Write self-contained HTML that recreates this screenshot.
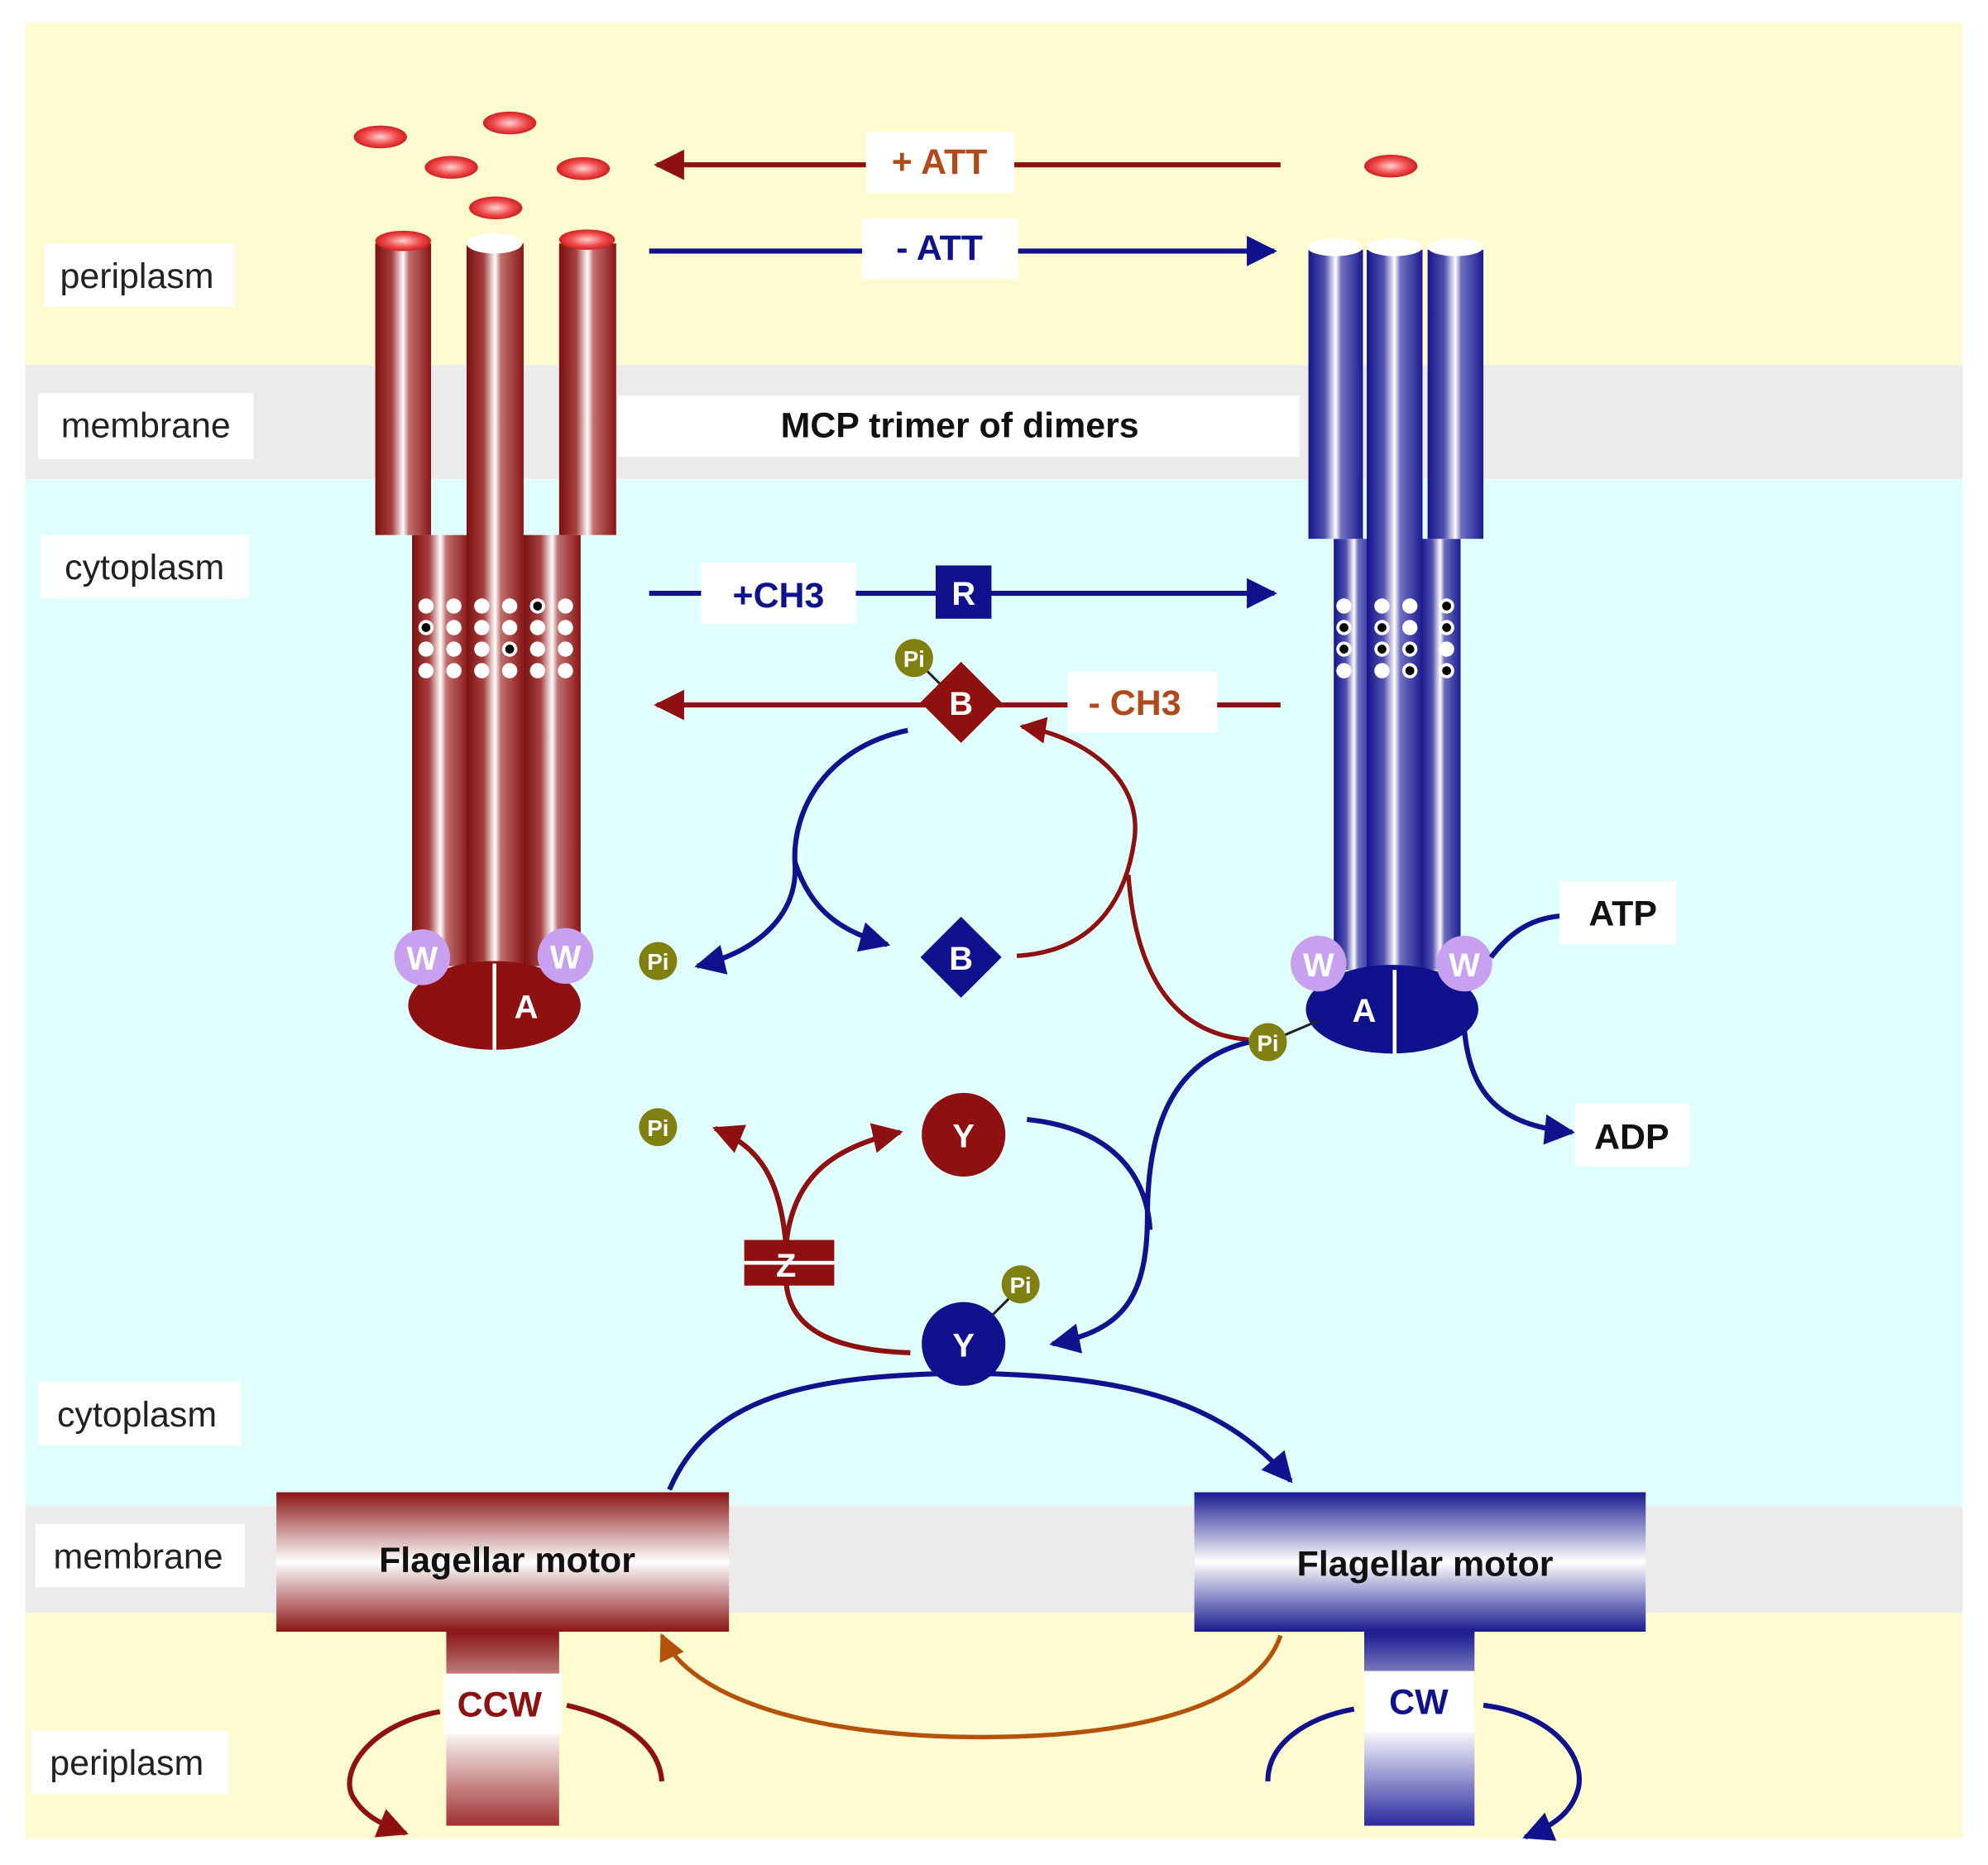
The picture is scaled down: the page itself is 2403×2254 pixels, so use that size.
<!DOCTYPE html>
<html><head><meta charset="utf-8">
<style>html,body{margin:0;padding:0;background:#fff}svg{display:block}
text{font-family:"Liberation Sans",Arial,sans-serif}</style></head>
<body>
<svg width="2403" height="2254" viewBox="0 0 1568 1471" preserveAspectRatio="none" xmlns="http://www.w3.org/2000/svg">
<defs>
<linearGradient id="rc" x1="0" x2="1" y1="0" y2="0">
<stop offset="0" stop-color="#7a1010"/><stop offset="0.3" stop-color="#a84040"/><stop offset="0.5" stop-color="#fff"/><stop offset="0.6" stop-color="#c07070"/><stop offset="1" stop-color="#8a1515"/></linearGradient>
<linearGradient id="bc" x1="0" x2="1" y1="0" y2="0">
<stop offset="0" stop-color="#14148a"/><stop offset="0.3" stop-color="#5050b0"/><stop offset="0.5" stop-color="#fff"/><stop offset="0.6" stop-color="#7070c0"/><stop offset="1" stop-color="#1a1a90"/></linearGradient>
<linearGradient id="rm" x1="0" x2="0" y1="0" y2="1">
<stop offset="0" stop-color="#8a1515"/><stop offset="0.5" stop-color="#fff"/><stop offset="1" stop-color="#8a1515"/></linearGradient>
<linearGradient id="bm" x1="0" x2="0" y1="0" y2="1">
<stop offset="0" stop-color="#1a1a90"/><stop offset="0.5" stop-color="#fff"/><stop offset="1" stop-color="#1a1a90"/></linearGradient>
<linearGradient id="rs" x1="0" x2="0" y1="0" y2="1">
<stop offset="0" stop-color="#8a1515"/><stop offset="0.5" stop-color="#fff"/><stop offset="1" stop-color="#a03030"/></linearGradient>
<linearGradient id="bs" x1="0" x2="0" y1="0" y2="1">
<stop offset="0" stop-color="#1a1a90"/><stop offset="0.5" stop-color="#fff"/><stop offset="1" stop-color="#2a2aa0"/></linearGradient>
<radialGradient id="att"><stop offset="0" stop-color="#ffd0d0"/><stop offset="0.6" stop-color="#f05050"/><stop offset="1" stop-color="#d02020"/></radialGradient>
<marker id="ab" viewBox="0 0 10 10" refX="9" refY="5" markerWidth="7" markerHeight="6" orient="auto" markerUnits="strokeWidth"><path d="M0,0L10,5L0,10z" fill="#0f128c"/></marker>
<marker id="ar" viewBox="0 0 10 10" refX="9" refY="5" markerWidth="7" markerHeight="6" orient="auto" markerUnits="strokeWidth"><path d="M0,0L10,5L0,10z" fill="#8e1010"/></marker>
<marker id="ao" viewBox="0 0 10 10" refX="9" refY="5" markerWidth="7" markerHeight="6" orient="auto" markerUnits="strokeWidth"><path d="M0,0L10,5L0,10z" fill="#b5520a"/></marker>
</defs>
<rect width="1568" height="1471" fill="#fff"/>
<rect x="20" y="18" width="1528" height="270" fill="#fffbd0"/>
<rect x="20" y="288" width="1528" height="90" fill="#ebebeb"/>
<rect x="20" y="378" width="1528" height="810" fill="#e0fefe"/>
<rect x="20" y="1188" width="1528" height="84" fill="#ebebeb"/>
<rect x="20" y="1272" width="1528" height="178" fill="#fffbd0"/>

<g font-size="28" fill="#222" text-anchor="middle">
<rect x="35" y="192" width="150" height="50" fill="#fff"/><text x="108" y="227">periplasm</text>
<rect x="30" y="310" width="170" height="52" fill="#fff"/><text x="115" y="345">membrane</text>
<rect x="32" y="422" width="165" height="50" fill="#fff"/><text x="114" y="457">cytoplasm</text>
<rect x="30" y="1090" width="160" height="50" fill="#fff"/><text x="108" y="1125">cytoplasm</text>
<rect x="28" y="1202" width="165" height="50" fill="#fff"/><text x="109" y="1237">membrane</text>
<rect x="25" y="1365" width="155" height="50" fill="#fff"/><text x="100" y="1400">periplasm</text>
</g>
<rect x="487" y="312" width="538" height="48" fill="#fff"/>
<text x="757" y="345" font-size="28" font-weight="bold" text-anchor="middle" fill="#111">MCP trimer of dimers</text>

<g fill="url(#att)">
<ellipse cx="300" cy="108" rx="21" ry="9"/><ellipse cx="402" cy="97" rx="21" ry="9"/>
<ellipse cx="356" cy="132" rx="21" ry="9"/><ellipse cx="460" cy="133" rx="21" ry="9"/>
<ellipse cx="391" cy="164" rx="21" ry="9"/><ellipse cx="1097" cy="131" rx="21" ry="9"/>
</g>

<rect x="325" y="422" width="45" height="340" fill="url(#rc)"/>
<rect x="413" y="422" width="45" height="340" fill="url(#rc)"/>
<rect x="296" y="192" width="44" height="230" fill="url(#rc)"/>
<rect x="441" y="192" width="45" height="230" fill="url(#rc)"/>
<rect x="368" y="192" width="45" height="570" fill="url(#rc)"/>
<ellipse cx="318" cy="190" rx="22" ry="8" fill="url(#att)"/>
<ellipse cx="463" cy="189" rx="22" ry="8" fill="url(#att)"/>
<ellipse cx="390" cy="192" rx="22" ry="8" fill="#fff"/>
<g fill="#fff">
<circle cx="336" cy="478" r="6"/><circle cx="358" cy="478" r="6"/><circle cx="380" cy="478" r="6"/><circle cx="402" cy="478" r="6"/><circle cx="424" cy="478" r="6"/><circle cx="446" cy="478" r="6"/>
<circle cx="336" cy="495" r="6"/><circle cx="358" cy="495" r="6"/><circle cx="380" cy="495" r="6"/><circle cx="402" cy="495" r="6"/><circle cx="424" cy="495" r="6"/><circle cx="446" cy="495" r="6"/>
<circle cx="336" cy="512" r="6"/><circle cx="358" cy="512" r="6"/><circle cx="380" cy="512" r="6"/><circle cx="402" cy="512" r="6"/><circle cx="424" cy="512" r="6"/><circle cx="446" cy="512" r="6"/>
<circle cx="336" cy="529" r="6"/><circle cx="358" cy="529" r="6"/><circle cx="380" cy="529" r="6"/><circle cx="402" cy="529" r="6"/><circle cx="424" cy="529" r="6"/><circle cx="446" cy="529" r="6"/>
</g>
<g fill="#000"><circle cx="336" cy="495" r="3.5"/><circle cx="424" cy="478" r="3.5"/><circle cx="402" cy="512" r="3.5"/></g>
<ellipse cx="390" cy="793" rx="68" ry="35" fill="#8e1010"/>
<line x1="390" y1="760" x2="390" y2="828" stroke="#fff" stroke-width="3"/>
<text x="415" y="803" font-size="26" font-weight="bold" fill="#fff" text-anchor="middle">A</text>
<circle cx="333" cy="755" r="22" fill="#c8a0f0"/><text x="333" y="765" font-size="26" font-weight="bold" fill="#fff" text-anchor="middle">W</text>
<circle cx="446" cy="754" r="22" fill="#c8a0f0"/><text x="446" y="764" font-size="26" font-weight="bold" fill="#fff" text-anchor="middle">W</text>

<rect x="1052" y="425" width="32" height="340" fill="url(#bc)"/>
<rect x="1120" y="425" width="32" height="340" fill="url(#bc)"/>
<rect x="1032" y="197" width="43" height="228" fill="url(#bc)"/>
<rect x="1126" y="197" width="44" height="228" fill="url(#bc)"/>
<rect x="1078" y="197" width="44" height="568" fill="url(#bc)"/>
<ellipse cx="1053" cy="195" rx="22" ry="7" fill="#fff"/><ellipse cx="1100" cy="195" rx="22" ry="7" fill="#fff"/><ellipse cx="1148" cy="195" rx="22" ry="7" fill="#fff"/>
<g fill="#fff">
<circle cx="1060" cy="478" r="6"/><circle cx="1090" cy="478" r="6"/><circle cx="1112" cy="478" r="6"/><circle cx="1141" cy="478" r="6"/>
<circle cx="1060" cy="495" r="6"/><circle cx="1090" cy="495" r="6"/><circle cx="1112" cy="495" r="6"/><circle cx="1141" cy="495" r="6"/>
<circle cx="1060" cy="512" r="6"/><circle cx="1090" cy="512" r="6"/><circle cx="1112" cy="512" r="6"/><circle cx="1141" cy="512" r="6"/>
<circle cx="1060" cy="529" r="6"/><circle cx="1090" cy="529" r="6"/><circle cx="1112" cy="529" r="6"/><circle cx="1141" cy="529" r="6"/>
</g>
<g fill="#000"><circle cx="1141" cy="478" r="3.5"/><circle cx="1060" cy="495" r="3.5"/><circle cx="1090" cy="495" r="3.5"/><circle cx="1141" cy="495" r="3.5"/>
<circle cx="1060" cy="512" r="3.5"/><circle cx="1090" cy="512" r="3.5"/><circle cx="1112" cy="512" r="3.5"/><circle cx="1112" cy="529" r="3.5"/><circle cx="1141" cy="529" r="3.5"/></g>
<ellipse cx="1098" cy="796" rx="68" ry="35" fill="#0f128c"/>
<line x1="1100" y1="765" x2="1100" y2="831" stroke="#fff" stroke-width="3"/>
<text x="1076" y="806" font-size="26" font-weight="bold" fill="#fff" text-anchor="middle">A</text>
<circle cx="1040" cy="760" r="22" fill="#c8a0f0"/><text x="1040" y="770" font-size="26" font-weight="bold" fill="#fff" text-anchor="middle">W</text>
<circle cx="1155" cy="760" r="22" fill="#c8a0f0"/><text x="1155" y="770" font-size="26" font-weight="bold" fill="#fff" text-anchor="middle">W</text>

<line x1="1010" y1="130" x2="518" y2="130" stroke="#8e1010" stroke-width="4" marker-end="url(#ar)"/>
<rect x="683" y="104" width="117" height="48" fill="#fff"/><text x="741" y="137" font-size="28" font-weight="bold" fill="#b04a1a" text-anchor="middle">+ ATT</text>
<line x1="512" y1="198" x2="1005" y2="198" stroke="#0f128c" stroke-width="4" marker-end="url(#ab)"/>
<rect x="680" y="172" width="123" height="48" fill="#fff"/><text x="741" y="205" font-size="28" font-weight="bold" fill="#0f128c" text-anchor="middle">- ATT</text>
<line x1="512" y1="468" x2="1005" y2="468" stroke="#0f128c" stroke-width="4" marker-end="url(#ab)"/>
<rect x="553" y="444" width="122" height="48" fill="#fff"/><text x="614" y="479" font-size="28" font-weight="bold" fill="#0f128c" text-anchor="middle">+CH3</text>
<rect x="738" y="446" width="44" height="42" fill="#0f128c"/><text x="760" y="477" font-size="26" font-weight="bold" fill="#fff" text-anchor="middle">R</text>
<line x1="1010" y1="556" x2="518" y2="556" stroke="#8e1010" stroke-width="4" marker-end="url(#ar)"/>
<rect x="842" y="530" width="118" height="48" fill="#fff"/><text x="895" y="564" font-size="28" font-weight="bold" fill="#b04a1a" text-anchor="middle">- CH3</text>
<line x1="722" y1="520" x2="745" y2="543" stroke="#222" stroke-width="2"/>
<path d="M758,522 L790,554 L758,586 L726,554 Z" fill="#8e1010"/><text x="758" y="564" font-size="26" font-weight="bold" fill="#fff" text-anchor="middle">B</text>
<circle cx="721" cy="519" r="15" fill="#808010"/><text x="721" y="526" font-size="18" font-weight="bold" fill="#fff" text-anchor="middle">Pi</text>

<path d="M716,576 C650,590 625,640 627,680 C630,720 600,750 550,762" fill="none" stroke="#0f128c" stroke-width="4" marker-end="url(#ab)"/>
<path d="M627,680 C640,720 665,735 700,745" fill="none" stroke="#0f128c" stroke-width="4" marker-end="url(#ab)"/>
<circle cx="519" cy="758" r="15" fill="#808010"/><text x="519" y="765" font-size="18" font-weight="bold" fill="#fff" text-anchor="middle">Pi</text>
<path d="M758,723 L790,755 L758,787 L726,755 Z" fill="#0f128c"/><text x="758" y="765" font-size="26" font-weight="bold" fill="#fff" text-anchor="middle">B</text>
<path d="M802,754 C870,750 890,700 895,660 C900,610 850,580 806,573" fill="none" stroke="#8e1010" stroke-width="3.5" marker-end="url(#ar)"/>
<path d="M985,820 C920,815 895,760 890,690" fill="none" stroke="#8e1010" stroke-width="3.5"/>
<line x1="1000" y1="822" x2="1040" y2="805" stroke="#222" stroke-width="2"/>
<path d="M985,822 C930,835 905,880 905,960 C905,1030 880,1050 830,1060" fill="none" stroke="#0f128c" stroke-width="4" marker-end="url(#ab)"/>
<path d="M810,883 C880,890 905,930 907,970" fill="none" stroke="#0f128c" stroke-width="4"/>
<circle cx="1000" cy="822" r="15" fill="#808010"/><text x="1000" y="829" font-size="18" font-weight="bold" fill="#fff" text-anchor="middle">Pi</text>

<path d="M1176,755 C1195,730 1215,722 1240,722" fill="none" stroke="#0f128c" stroke-width="4"/>
<rect x="1230" y="695" width="92" height="50" fill="#fff"/><text x="1280" y="730" font-size="28" font-weight="bold" fill="#111" text-anchor="middle">ATP</text>
<path d="M1155,812 C1160,870 1190,888 1240,893" fill="none" stroke="#0f128c" stroke-width="4" marker-end="url(#ab)"/>
<rect x="1242" y="870" width="90" height="50" fill="#fff"/><text x="1287" y="906" font-size="28" font-weight="bold" fill="#111" text-anchor="middle">ADP</text>

<circle cx="760" cy="895" r="33" fill="#8e1010"/><text x="760" y="905" font-size="26" font-weight="bold" fill="#fff" text-anchor="middle">Y</text>
<path d="M620,982 C615,930 600,905 564,890" fill="none" stroke="#8e1010" stroke-width="4" marker-end="url(#ar)"/>
<path d="M620,982 C625,930 655,905 710,893" fill="none" stroke="#8e1010" stroke-width="4" marker-end="url(#ar)"/>
<circle cx="519" cy="889" r="15" fill="#808010"/><text x="519" y="896" font-size="18" font-weight="bold" fill="#fff" text-anchor="middle">Pi</text>
<path d="M620,1010 C622,1050 660,1065 718,1067" fill="none" stroke="#8e1010" stroke-width="4"/>
<rect x="587" y="978" width="71" height="36" fill="#8e1010"/>
<line x1="587" y1="996" x2="658" y2="996" stroke="#fff" stroke-width="3"/>
<text x="620" y="1007" font-size="26" font-weight="bold" fill="#fff" text-anchor="middle">Z</text>
<path d="M528,1175 C560,1100 640,1085 760,1083 C880,1085 960,1100 1018,1168" fill="none" stroke="#0f128c" stroke-width="4" marker-end="url(#ab)"/>
<line x1="780" y1="1040" x2="800" y2="1020" stroke="#222" stroke-width="2"/>
<circle cx="760" cy="1060" r="33" fill="#0f128c"/><text x="760" y="1070" font-size="26" font-weight="bold" fill="#fff" text-anchor="middle">Y</text>
<circle cx="805" cy="1013" r="15" fill="#808010"/><text x="805" y="1020" font-size="18" font-weight="bold" fill="#fff" text-anchor="middle">Pi</text>

<rect x="352" y="1287" width="89" height="153" fill="url(#rs)"/>
<rect x="218" y="1177" width="357" height="110" fill="url(#rm)"/>
<text x="400" y="1240" font-size="28" font-weight="bold" fill="#111" text-anchor="middle">Flagellar motor</text>
<rect x="350" y="1320" width="93" height="48" fill="#fff"/><text x="394" y="1354" font-size="28" font-weight="bold" fill="#8e1010" text-anchor="middle">CCW</text>
<rect x="1076" y="1287" width="87" height="153" fill="url(#bs)"/>
<rect x="942" y="1177" width="356" height="110" fill="url(#bm)"/>
<text x="1124" y="1243" font-size="28" font-weight="bold" fill="#111" text-anchor="middle">Flagellar motor</text>
<rect x="1076" y="1318" width="87" height="48" fill="#fff"/><text x="1119" y="1352" font-size="28" font-weight="bold" fill="#0f128c" text-anchor="middle">CW</text>

<path d="M1010,1290 C990,1350 880,1372 760,1370 C640,1368 545,1340 522,1290" fill="none" stroke="#b5520a" stroke-width="3.5" marker-end="url(#ao)"/>
<path d="M347,1350 C290,1360 265,1400 280,1420 C290,1435 305,1440 320,1446" fill="none" stroke="#8e1010" stroke-width="4" marker-end="url(#ar)"/>
<path d="M447,1345 C490,1355 520,1375 522,1405" fill="none" stroke="#8e1010" stroke-width="4"/>
<path d="M1068,1348 C1030,1355 1000,1375 1000,1405" fill="none" stroke="#0f128c" stroke-width="4"/>
<path d="M1170,1345 C1225,1352 1250,1385 1245,1410 C1240,1430 1225,1440 1203,1449" fill="none" stroke="#0f128c" stroke-width="4" marker-end="url(#ab)"/>
</svg>
</body></html>
